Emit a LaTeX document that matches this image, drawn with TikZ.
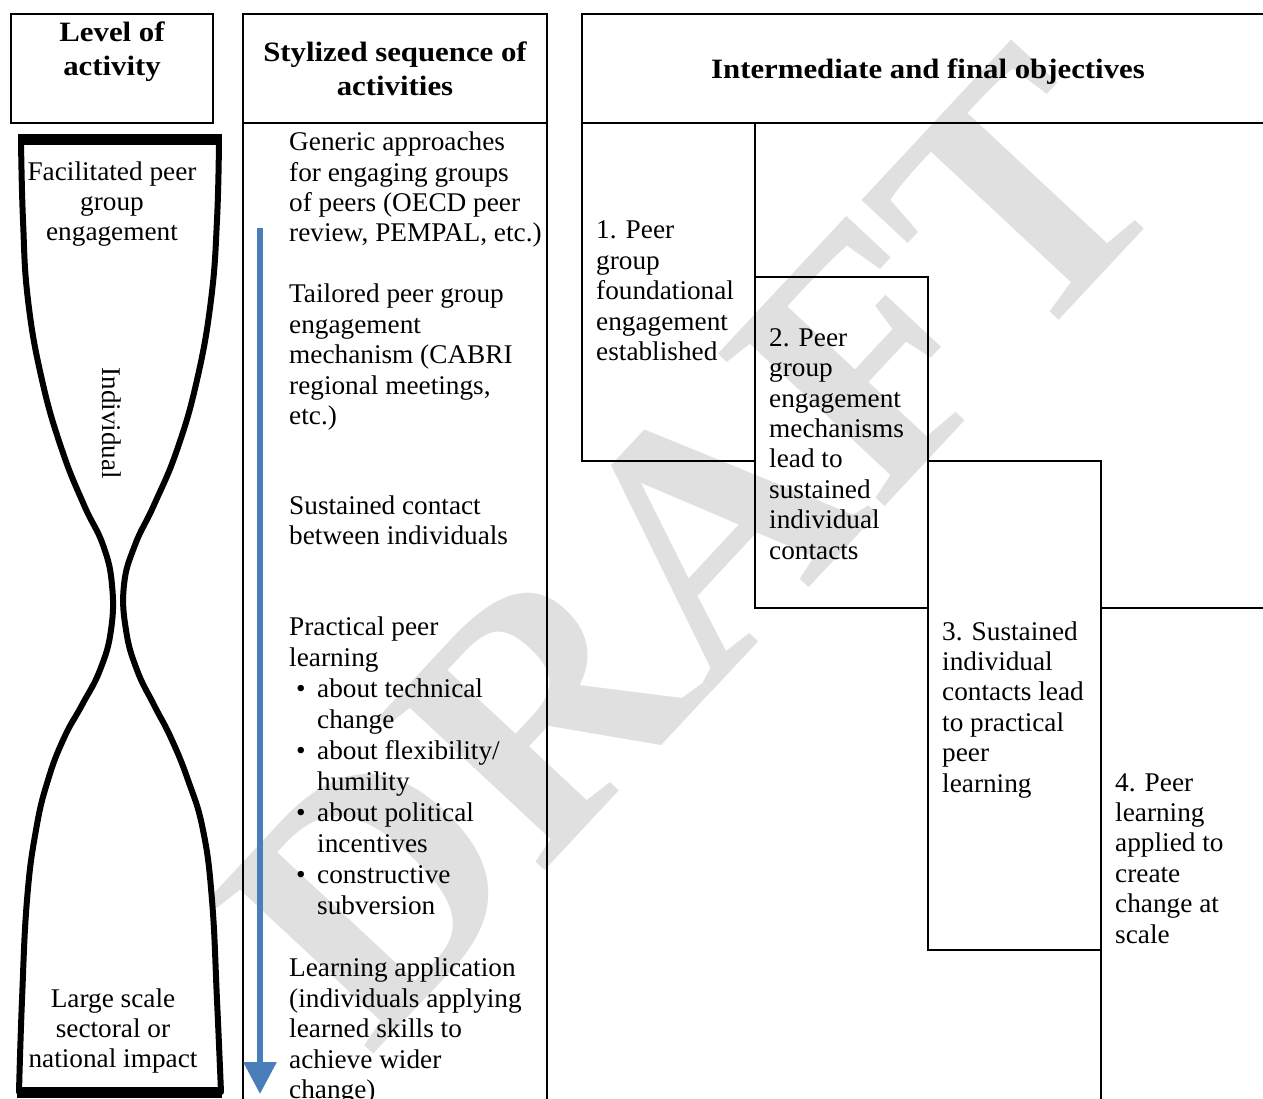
\documentclass[tikz,border=0pt]{standalone}
\usepackage{fontspec}
\setmainfont[FakeStretch=1.01]{Liberation Serif}
\newfontfamily\hdfont[FakeStretch=1.1]{Liberation Serif}
\newfontfamily\plainfont{Liberation Serif}
\usetikzlibrary{arrows.meta}
\definecolor{arrowblue}{RGB}{74,126,187}
\definecolor{wmgray}{RGB}{224,224,224}
\newcommand\mybul{\makebox[28pt][l]{\hspace{7pt}•}}
\newcommand\myind{\hspace*{28pt}}
\begin{document}
\begin{tikzpicture}[x=1pt,y=-1pt,
  frame/.style={line width=2pt, line cap=rect},
  body/.style={font=\fontsize{27}{30.4}\selectfont, align=left, inner sep=0pt, anchor=base west},
  ctext/.style={font=\fontsize{27}{30}\selectfont, align=center, inner sep=0pt, anchor=base},
  head/.style={font=\hdfont\bfseries\fontsize{28}{34}\selectfont, align=center, inner sep=0pt, anchor=base},
  glass/.style={line width=6pt, line cap=round},
  bar/.style={line width=11pt}]
\useasboundingbox (0,0) rectangle (1263,1099);
\fill[white] (0,0) rectangle (1263,1099);
% watermark
\node[rotate=47, text=wmgray, inner sep=0pt, font=\plainfont\bfseries\fontsize{345}{345}\selectfont] (wm) at (692,547) {DRAFT};
% left column (base anchors = baseline of last line)
\draw[frame] (11,14) rectangle (213,123);
\node[head] (lvl) at (112,76) {Level of\\activity};
\draw[bar] (18,140) -- (222,140);
\draw[bar] (17,1092) -- (222,1092);
\draw[glass] plot[smooth, tension=0.75] coordinates {(21,140) (23,220) (28,300) (42,380) (62,450) (84,505) (103,545) (112,585) (111,630) (100,670) (82,705) (64,738) (48,780) (36,830) (27,900) (22,1000) (19,1092)};
\draw[glass] plot[smooth, tension=0.75] coordinates {(219,140) (217,220) (211,300) (197,380) (177,450) (154,505) (135,545) (124,585) (126,630) (137,670) (154,705) (171,738) (188,780) (203,830) (212,900) (217,1000) (221,1092)};
\node[ctext] (fac) at (112,241) {Facilitated peer\\group\\engagement};
\node[ctext] (lrg) at (113,1067) {Large scale\\sectoral or\\national impact};
\node[rotate=-90, inner sep=0pt, font=\plainfont\fontsize{27}{30}\selectfont] (indiv) at (112,423) {Individual};
% middle column
\draw[frame] (243,1099) -- (243,14) -- (547,14) -- (547,1099);
\draw[frame] (243,123) -- (547,123);
\node[head] (sty) at (395,96) {Stylized sequence of\\activities};
\coordinate (astart) at (260,228);
\coordinate (aend) at (260,1094);
\draw[arrowblue, line width=6pt, -{Triangle[length=32pt, width=32pt]}] (astart) -- (aend);
\node[body] (gen) at (289,242) {Generic approaches\\for engaging groups\\of peers (OECD peer\\review, PEMPAL, etc.)};
\node[body] (tail) at (289,424.5) {Tailored peer group\\engagement\\mechanism (CABRI\\regional meetings,\\etc.)};
\node[body] (sust) at (289,544.5) {Sustained contact\\between individuals};
\node[body, font=\fontsize{27}{31}\selectfont] (prac) at (289,914) {Practical peer\\learning\\\mybul about technical\\\myind change\\\mybul about flexibility/\\\myind humility\\\mybul about political\\\myind incentives\\\mybul constructive\\\myind subversion};
\node[body] (lapp) at (289,1098.5) {Learning application\\(individuals applying\\learned skills to\\achieve wider\\change)};
% right area
\draw[frame] (1263,14) -- (582,14) -- (582,461) -- (755,461);
\draw[frame] (582,123) -- (1263,123);
\draw[frame] (755,123) -- (755,608) -- (928,608);
\draw[frame] (755,277) -- (928,277) -- (928,950) -- (1101,950);
\draw[frame] (928,461) -- (1101,461) -- (1101,1099);
\draw[frame] (1101,608) -- (1263,608);
\node[head] (obj) at (928,79) {Intermediate and final objectives};
\node[body] (b1) at (596,360.5) {1. Peer\\group\\foundational\\engagement\\established};
\node[body] (b2) at (769,559) {2. Peer\\group\\engagement\\mechanisms\\lead to\\sustained\\individual\\contacts};
\node[body] (b3) at (942,792) {3. Sustained\\individual\\contacts lead\\to practical\\peer\\learning};
\node[body] (b4) at (1115,943) {4. Peer\\learning\\applied to\\create\\change at\\scale};
\end{tikzpicture}
\end{document}
